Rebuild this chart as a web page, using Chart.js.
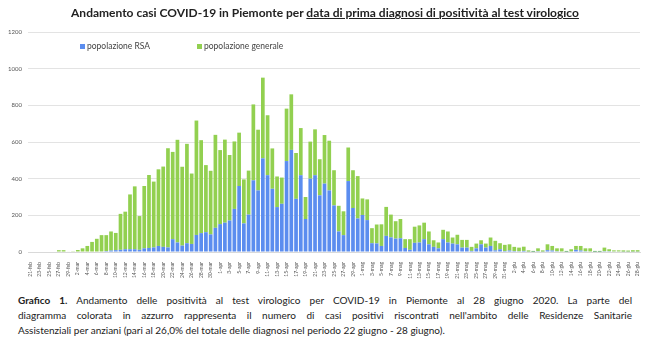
<!DOCTYPE html>
<html>
<head>
<meta charset="utf-8">
<script src="https://cdn.jsdelivr.net/npm/chart.js@4.4.1/dist/chart.umd.min.js"></script>
<style>
  body { margin: 0; background: #fff; font-family: Lato, "Open Sans", sans-serif; }
  #wrap { position: relative; width: 650px; height: 353px; overflow: hidden; }
  #title { position: absolute; top: 5px; left: 0; width: 650px; text-align: center;
           font-size: 12px; font-weight: bold; color: #222; }
  #title u { text-decoration-thickness: 1px; text-underline-offset: 1px; }
  #chartBox { position: absolute; top: 0; left: 0; width: 650px; height: 285px; }
  #legend { position: absolute; top: 41px; left: 80px; font-size: 8.5px; color: #444; }
  #legend span.item { position: absolute; white-space: nowrap; }
  #legend i { display: inline-block; width: 5px; height: 5px; margin-right: 2px; vertical-align: 0; }
  #caption { position: absolute; top: 293px; left: 18px; width: 614px; font-size: 10px;
             line-height: 15px; color: #222; }
  #caption div { text-align: justify; text-align-last: justify; white-space: nowrap; }
  #caption div.last { text-align-last: left; }
</style>
</head>
<body>
<div id="wrap">
  <div id="chartBox"><canvas id="canvas" width="650" height="285"></canvas></div>
  <div id="title">Andamento casi COVID-19 in Piemonte per <u>data di prima diagnosi di positività al test virologico</u></div>
  <div id="legend">
    <span class="item" style="left:0"><i style="background:#5B8DEF"></i>popolazione RSA</span>
    <span class="item" style="left:117px"><i style="background:#92D050"></i>popolazione generale</span>
  </div>
  <div id="caption">
    <div><b>Grafico 1.</b> Andamento delle positività al test virologico per COVID-19 in Piemonte al 28 giugno 2020. La parte del</div>
    <div>diagramma colorata in azzurro rappresenta il numero di casi positivi riscontrati nell'ambito delle Residenze Sanitarie</div>
    <div class="last">Assistenziali per anziani (pari al 26,0% del totale delle diagnosi nel periodo 22 giugno - 28 giugno).</div>
  </div>
</div>
<script>
const monthNames = ['feb', 'mar', 'apr', 'mag', 'giu'];
const monthDays = [29, 31, 30, 31, 30];

// daily labels 21-feb .. 28-giu
const dates = [];
for (let m = 0; m < monthNames.length; m++) {
    const start = m === 0 ? 21 : 1;
    const end = m === 4 ? 28 : monthDays[m];
    for (let d = start; d <= end; d++) dates.push(d + '-' + monthNames[m]);
}

// total positives per day
const totalCases = [
    0, 0, 0, 0, 0, 0, 10, 10, 3, 4,
    11, 20, 33, 55, 72, 92, 92, 112, 104, 208,
    220, 314, 358, 196, 360, 420, 384, 451, 466, 566,
    546, 612, 465, 590, 428, 717, 610, 474, 443, 639,
    556, 613, 529, 603, 651, 396, 444, 805, 667, 951,
    746, 565, 412, 406, 782, 860, 540, 676, 300, 602,
    669, 506, 638, 607, 446, 252, 222, 570, 446, 414,
    292, 287, 130, 150, 151, 246, 204, 168, 180, 70,
    70, 138, 145, 160, 112, 64, 52, 121, 112, 79,
    94, 66, 66, 28, 46, 64, 46, 79, 61, 48,
    39, 42, 28, 24, 29, 9, 6, 20, 9, 42,
    33, 20, 20, 6, 15, 33, 33, 20, 20, 6,
    6, 24, 15, 9, 9, 9, 8, 10, 10
];

// positives among RSA residents
const rsaCases = [
    0, 0, 0, 0, 0, 0, 0, 0, 0, 0,
    0, 0, 0, 0, 0, 3, 5, 8, 10, 12,
    15, 15, 15, 12, 20, 22, 25, 33, 28, 25,
    70, 52, 35, 48, 44, 93, 103, 108, 96, 132,
    152, 160, 172, 235, 360, 156, 204, 391, 336, 511,
    419, 345, 245, 263, 496, 557, 290, 419, 180, 400,
    419, 309, 373, 336, 254, 112, 92, 387, 240, 183,
    202, 174, 48, 47, 33, 88, 80, 73, 75, 22,
    12, 50, 52, 70, 42, 28, 20, 70, 52, 46,
    42, 24, 24, 6, 20, 42, 24, 33, 9, 15,
    5, 8, 5, 4, 6, 2, 1, 4, 2, 10,
    8, 4, 3, 1, 3, 12, 8, 4, 3, 1,
    1, 4, 4, 3, 3, 2, 2, 2, 2
];

const generalCases = totalCases.map((t, i) => t - rsaCases[i]);

const yTicks = [0, 200, 400, 600, 800, 1000, 1200];

const ctx = document.getElementById('canvas').getContext('2d');
const chart = new Chart(ctx, {
    type: 'bar',
    data: {
        labels: dates,
        datasets: [
            {
                label: 'popolazione RSA',
                data: rsaCases,
                backgroundColor: '#5B8DEF',
                barPercentage: 0.78,
                categoryPercentage: 1
            },
            {
                label: 'popolazione generale',
                data: generalCases,
                backgroundColor: '#92D050',
                barPercentage: 0.78,
                categoryPercentage: 1
            }
        ]
    },
    options: {
        responsive: false,
        animation: false,
        layout: { padding: { top: 32, left: 4, right: 10, bottom: 0 } },
        plugins: {
            legend: { display: false },
            tooltip: { enabled: false }
        },
        scales: {
            x: {
                stacked: true,
                grid: { display: false },
                border: { display: true, color: '#d9d9d9' },
                afterFit: (s) => { s.height = 33; },
                ticks: {
                    autoSkip: false,
                    minRotation: 90,
                    maxRotation: 90,
                    padding: 2,
                    color: '#555',
                    font: { family: 'Lato', size: 5 },
                    callback: function (val, idx) {
                        return idx % 2 === 0 ? dates[idx] : '';
                    }
                }
            },
            y: {
                stacked: true,
                min: 0,
                max: 1200,
                afterFit: (s) => { s.width = 24; },
                afterBuildTicks: (s) => { s.ticks = yTicks.map(v => ({ value: v })); },
                grid: { color: '#e3e3e3', drawTicks: false },
                border: { display: false },
                ticks: {
                    padding: 6,
                    color: '#555',
                    font: { family: 'Lato', size: 6 },
                    callback: (v) => String(v)
                }
            }
        }
    }
});
</script>
</body>
</html>
